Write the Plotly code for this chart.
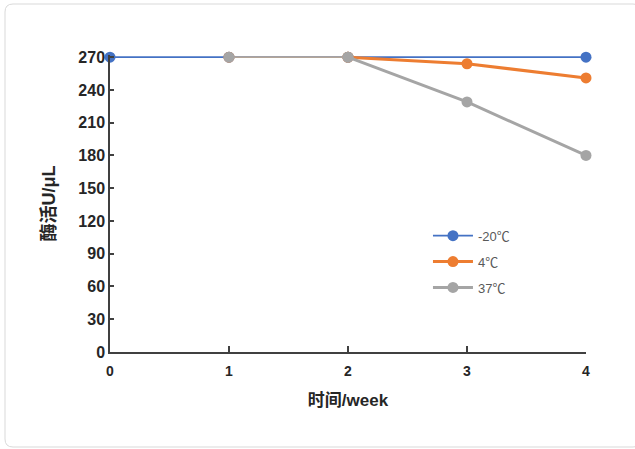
import plotly.graph_objects as go

weeks = [0, 1, 2, 3, 4]
series_names = ["-20℃", "4℃", "37℃"]
activity_m20 = [270, 270, 270, None, 270]
activity_4 = [None, 270, 270, 264, 251]
activity_37 = [None, 270, 270, 229, 180]
y_ticks = [0, 30, 60, 90, 120, 150, 180, 210, 240, 270]
x_ticks = [0, 1, 2, 3, 4]

colors = ["#4472C4", "#ED7D31", "#A5A5A5"]
values = [activity_m20, activity_4, activity_37]
SEG_COLOR = "#B3A598"  # thin shared segment between weeks 1 and 2

FONT = "Liberation Sans, Arial, Noto Sans CJK SC, sans-serif"


def pick(vals, keep):
    xs = [w for w, v in zip(weeks, vals) if v is not None and keep(w)]
    ys = [v for w, v in zip(weeks, vals) if v is not None and keep(w)]
    return xs, ys


fig = go.Figure()
fig.add_trace(go.Scatter(
    x=weeks, y=activity_m20, name=series_names[0], mode="lines+markers",
    connectgaps=True,
    line=dict(color=colors[0], width=1.8),
    marker=dict(color=colors[0], size=11),
    cliponaxis=False, legendgroup="g0", legendrank=1,
))

for i in (1, 2):
    vals = values[i]
    sx, sy = pick(vals, lambda w: w <= 2)
    fig.add_trace(go.Scatter(
        x=sx, y=sy, mode="lines+markers", showlegend=False, hoverinfo="skip",
        line=dict(color=SEG_COLOR, width=1.5),
        marker=dict(color=colors[i], size=11),
        cliponaxis=False, legendgroup=f"g{i}",
    ))
    tx, ty = pick(vals, lambda w: w >= 2)
    fig.add_trace(go.Scatter(
        x=tx, y=ty, name=series_names[i], mode="lines+markers",
        line=dict(color=colors[i], width=3),
        marker=dict(color=colors[i], size=11),
        cliponaxis=False, legendgroup=f"g{i}", legendrank=i + 1,
    ))

# plot-area geometry in pixels (used for the outer frame)
W, H = 635, 449
L, R, T, B = 110, 49, 55, 97
pw, ph = W - L - R, H - T - B


def px(x):
    return (x - L) / pw


def py(y):
    return (H - B - y) / ph


x0, x1, y0, y1, r = 5, 641, 4, 447, 8
frame = (
    f"M {px(x0 + r)} {py(y0)} L {px(x1 - r)} {py(y0)} "
    f"Q {px(x1)} {py(y0)} {px(x1)} {py(y0 + r)} "
    f"L {px(x1)} {py(y1 - r)} Q {px(x1)} {py(y1)} {px(x1 - r)} {py(y1)} "
    f"L {px(x0 + r)} {py(y1)} Q {px(x0)} {py(y1)} {px(x0)} {py(y1 - r)} "
    f"L {px(x0)} {py(y0 + r)} Q {px(x0)} {py(y0)} {px(x0 + r)} {py(y0)} Z"
)

fig.update_layout(
    width=W, height=H,
    margin=dict(l=L, r=R, t=T, b=B),
    paper_bgcolor="white", plot_bgcolor="white",
    font=dict(family=FONT, color="#262626"),
    shapes=[dict(type="path", path=frame, xref="paper", yref="paper",
                 line=dict(color="#D9D9D9", width=1), layer="below")],
    legend=dict(x=0.668, y=0.442, xanchor="left", yanchor="top",
                bgcolor="rgba(0,0,0,0)", traceorder="grouped",
                tracegroupgap=6, itemwidth=40,
                font=dict(size=13, color="#595959", family=FONT)),
    showlegend=True,
)

fig.update_xaxes(
    range=[0, 4], tickvals=x_ticks, ticktext=[f"<b>{v}</b>" for v in x_ticks],
    showgrid=False, zeroline=False, showline=True, linecolor="#404040",
    linewidth=1.5, ticks="inside", ticklen=6, tickcolor="#404040", tickwidth=1.5,
    ticklabelstandoff=5,
    tickfont=dict(size=14, family=FONT, color="#262626"),
    title=dict(text="<b>时间/week</b>", font=dict(size=17, color="#262626"), standoff=17),
)
# a little headroom above 270 keeps the top line from being clipped
fig.update_yaxes(
    range=[0, 272], tickvals=y_ticks, ticktext=[f"<b>{v}</b>" for v in y_ticks],
    showgrid=False, zeroline=False, showline=True, linecolor="#404040",
    linewidth=1.5, ticks="inside", ticklen=4, tickcolor="#404040", tickwidth=1.5,
    tickfont=dict(size=16, color="#262626"),
    title=dict(text="<b>酶活U/μL</b>", font=dict(size=18, color="#262626"), standoff=18),
)

fig.write_html("out.html")
